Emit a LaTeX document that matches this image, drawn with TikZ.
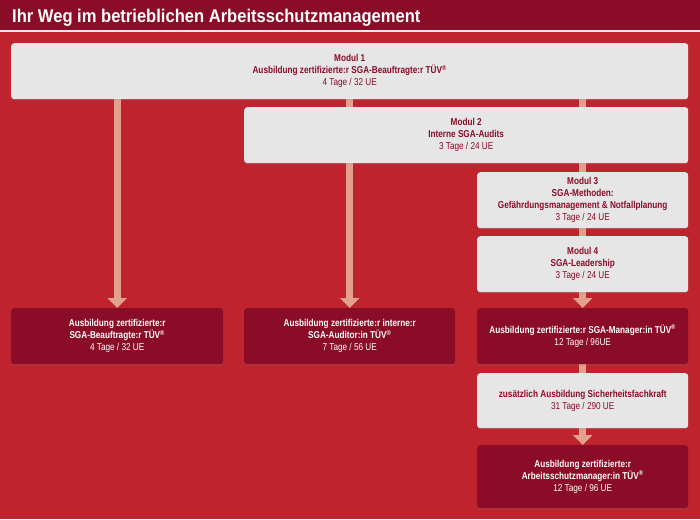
\documentclass[tikz,border=0pt]{standalone}
\usepackage{fontspec}
\setmainfont[FakeStretch=0.82]{Liberation Sans}
\newfontfamily\titelfont[FakeStretch=0.9]{Liberation Sans}
\usetikzlibrary{arrows.meta,shadows}
\definecolor{tuevdark}{HTML}{8A0C26}
\definecolor{tuevred}{HTML}{BF232D}
\definecolor{tuevgray}{HTML}{E6E6E6}
\definecolor{tuevbar}{HTML}{E3A08C}
\pgfdeclarelayer{back}
\pgfdeclarelayer{bars}
\pgfsetlayers{back,bars,main}
\begin{document}
\begin{tikzpicture}[x=1pt, y=-1pt]
	\tikzstyle{modul}=[rectangle, rounded corners=3pt, fill=tuevgray, text=tuevdark, align=center, inner sep=0pt, anchor=north west, font=\fontsize{10}{12}\selectfont\bfseries, drop shadow={opacity=0.2, shadow xshift=0pt, shadow yshift=-1.5pt}]
	\tikzstyle{abschluss}=[modul, fill=tuevdark, text=white]
	\tikzstyle{balken}=[tuevbar, line width=7pt]
	\tikzstyle{pfeil}=[balken, -{Triangle[width=19pt, length=10pt]}]
	\useasboundingbox (0,0) rectangle (700,519);
	
	\begin{pgfonlayer}{back}
		\fill[tuevred] (0,0) rectangle (700,519);
		\fill[tuevdark] (0,0) rectangle (700,30.5);
		\fill[white!90!tuevred] (0,30.5) rectangle (700,32.5);
	\end{pgfonlayer}
	
	\node[anchor=base west, text=white, font=\titelfont\fontsize{18.4}{20}\selectfont\bfseries, inner sep=0pt] (Titel) at (12,23) {Ihr Weg im betrieblichen Arbeitsschutzmanagement};
	
	\node[modul, minimum width=677pt, minimum height=56pt] (Modul-1) at (11,43) {Modul 1\\Ausbildung zertifizierte:r SGA-Beauftragte:r TÜV\textsuperscript{®}\\\mdseries 4 Tage / 32 UE};
	\node[modul, minimum width=444pt, minimum height=56pt] (Modul-2) at (244,107) {Modul 2\\Interne SGA-Audits\\\mdseries 3 Tage / 24 UE};
	\node[modul, minimum width=211pt, minimum height=56pt] (Modul-3) at (477,172) {Modul 3\\SGA-Methoden:\\Gefährdungsmanagement \& Notfallplanung\\\mdseries 3 Tage / 24 UE};
	\node[modul, minimum width=211pt, minimum height=56pt] (Modul-4) at (477,236) {Modul 4\\SGA-Leadership\\\mdseries 3 Tage / 24 UE};
	
	\node[abschluss, minimum width=212pt, minimum height=56pt] (Abschluss-1) at (11,308) {Ausbildung zertifizierte:r\\SGA-Beauftragte:r TÜV\textsuperscript{®}\\\mdseries 4 Tage / 32 UE};
	\node[abschluss, minimum width=211pt, minimum height=56pt] (Abschluss-2) at (244,308) {Ausbildung zertifizierte:r interne:r\\SGA-Auditor:in TÜV\textsuperscript{®}\\\mdseries 7 Tage / 56 UE};
	\node[abschluss, minimum width=211pt, minimum height=56pt] (Abschluss-3) at (477,308) {Ausbildung zertifizierte:r SGA-Manager:in TÜV\textsuperscript{®}\\\mdseries 12 Tage / 96UE};
	\node[modul, minimum width=211pt, minimum height=55pt] (Sifa) at (477,373) {zusätzlich Ausbildung Sicherheitsfachkraft\\\mdseries 31 Tage / 290 UE};
	\node[abschluss, minimum width=211pt, minimum height=63pt] (Abschluss-4) at (477,445) {Ausbildung zertifizierte:r\\Arbeitsschutzmanager:in TÜV\textsuperscript{®}\\\mdseries 12 Tage / 96 UE};
	
	\begin{pgfonlayer}{bars}
		\draw[pfeil] (Modul-1.south -| Abschluss-1.north) -- (Abschluss-1.north);
		\draw[pfeil] (Modul-1.south -| Abschluss-2.north) -- (Abschluss-2.north);
		\draw[pfeil] (Modul-1.south -| Abschluss-3.north) -- (Abschluss-3.north);
		\draw[balken] (Abschluss-3.south) -- (Sifa.north);
		\draw[pfeil] (Sifa.south) -- (Abschluss-4.north);
	\end{pgfonlayer}
\end{tikzpicture}
\end{document}
